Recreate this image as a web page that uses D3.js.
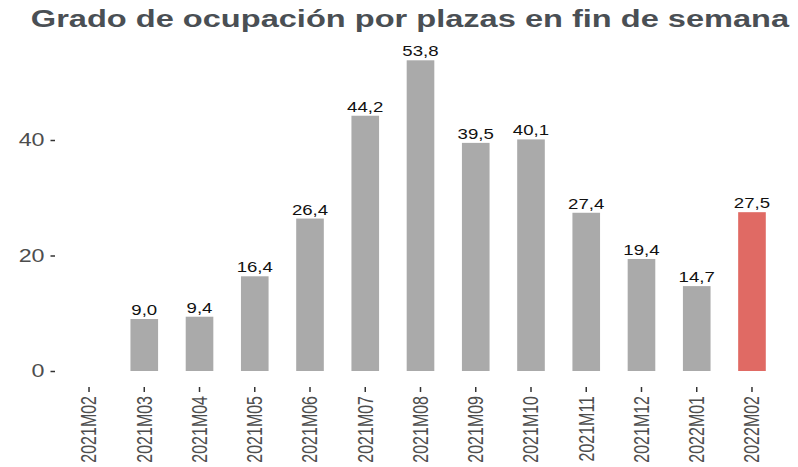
<!DOCTYPE html>
<html>
<head>
<meta charset="utf-8">
<script src="https://cdn.jsdelivr.net/npm/d3@7"></script>
<style>
  body { margin: 0; background: #fff; }
  svg text { font-family: "Liberation Sans", Arial, sans-serif; }
</style>
</head>
<body>
<div id="chart"></div>
<script>
var months = ["2021M02", "2021M03", "2021M04", "2021M05", "2021M06", "2021M07", "2021M08",
              "2021M09", "2021M10", "2021M11", "2021M12", "2022M01", "2022M02"];
var values = [null, 9.0, 9.4, 16.4, 26.4, 44.2, 53.8, 39.5, 40.1, 27.4, 19.4, 14.7, 27.5];
var yTicks = [0, 20, 40];
var highlight = "2022M02";
var title = "Grado de ocupación por plazas en fin de semana";

function init() {
    // picture is stretched horizontally, so draw in a narrower box and stretch it
    var W = 798, H = 467;
    var k = 1.33;
    var w = W / k;

    var dataset = months.map(function(m, i) { return { month: m, value: values[i] }; });

    var xScale = d3.scaleBand()
                   .domain(months)
                   .range([61.4 / k, 779.6 / k])
                   .paddingInner(0.5)
                   .paddingOuter(0.25);

    var yScale = d3.scaleLinear()
                   .domain([0, 60])
                   .range([371, 371 - 60 * 5.775]);

    var fmt = function(v) { return d3.format(".1f")(v).replace(".", ","); };

    var svg = d3.select("#chart")
                .append("svg")
                .attr("width", W)
                .attr("height", H)
                .attr("viewBox", "0 0 " + w + " " + H)
                .attr("preserveAspectRatio", "none");

    svg.append("text")
        .attr("x", 410 / k)
        .attr("y", 27)
        .attr("text-anchor", "middle")
        .attr("font-size", 24.5)
        .attr("font-weight", "bold")
        .attr("fill", "#4a4f54")
        .text(title);

    var bars = dataset.filter(function(d) { return d.value != null; });

    svg.selectAll("rect.bar")
        .data(bars)
        .enter()
        .append("rect")
        .attr("class", "bar")
        .attr("x", function(d) { return xScale(d.month); })
        .attr("width", xScale.bandwidth())
        .attr("y", function(d) { return yScale(d.value); })
        .attr("height", function(d) { return yScale(0) - yScale(d.value); })
        .attr("fill", function(d) { return d.month === highlight ? "#e06a64" : "#aaaaaa"; });

    svg.selectAll("text.val")
        .data(bars)
        .enter()
        .append("text")
        .attr("class", "val")
        .attr("x", function(d) { return xScale(d.month) + xScale.bandwidth() / 2; })
        .attr("y", function(d) { return yScale(d.value) - 4; })
        .attr("text-anchor", "middle")
        .attr("font-size", 14)
        .attr("fill", "#111")
        .text(function(d) { return fmt(d.value); });

    //y axis
    var yAxis = d3.axisLeft(yScale)
                  .tickValues(yTicks)
                  .tickSize(4.5 / k)
                  .tickPadding(6 / k);

    var gy = svg.append("g")
        .attr("transform", "translate(" + (55 / k) + ",0)")
        .call(yAxis);
    gy.select(".domain").remove();
    gy.selectAll(".tick line").attr("stroke", "#333").attr("stroke-width", 1.5);
    gy.selectAll(".tick text")
        .attr("font-size", 17.5)
        .attr("fill", "#4d4d4d")
        .attr("font-family", "Liberation Sans, Arial, sans-serif");

    //x axis
    var xAxis = d3.axisBottom(xScale)
                  .tickSize(5)
                  .tickPadding(0);

    var gx = svg.append("g")
        .attr("transform", "translate(0,387)")
        .call(xAxis);
    gx.select(".domain").remove();
    gx.selectAll(".tick line").attr("stroke", "#333").attr("stroke-width", 1.5 / k);
    gx.selectAll(".tick text")
        .attr("font-size", 16)
        .attr("fill", "#4d4d4d")
        .attr("font-family", "Liberation Sans, Arial, sans-serif")
        .attr("text-anchor", "end")
        .attr("dy", null)
        .attr("transform", "translate(0,9) rotate(-90)")
        .attr("x", 0)
        .attr("y", 0)
        .attr("dominant-baseline", "central");
}
window.onload = init;
</script>
</body>
</html>
